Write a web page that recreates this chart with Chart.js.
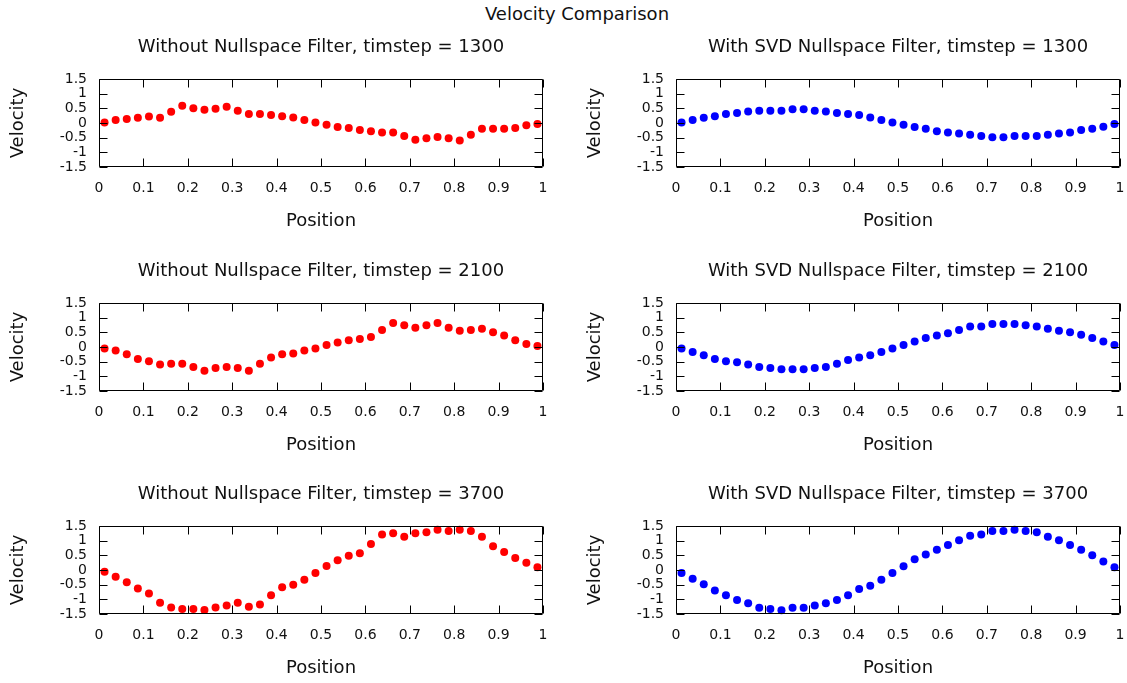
<!DOCTYPE html>
<html>
<head>
<meta charset="utf-8">
<script src="https://cdn.jsdelivr.net/npm/chart.js@4/dist/chart.umd.min.js"></script>
<style>
html,body{margin:0;padding:0;background:#fff;overflow:hidden;width:1127px;height:683px;}
#main{position:absolute;left:0;top:4px;width:1154px;text-align:center;font-family:"DejaVu Sans";font-size:18px;line-height:20px;color:#111;}
canvas{position:absolute;}
</style>
</head>
<body>
<div id="main">Velocity Comparison</div>
<canvas id="c1" width="560" height="210" style="left:0px;top:27px"></canvas>
<canvas id="c2" width="550" height="210" style="left:577px;top:27px"></canvas>
<canvas id="c3" width="560" height="210" style="left:0px;top:251px"></canvas>
<canvas id="c4" width="550" height="210" style="left:577px;top:251px"></canvas>
<canvas id="c5" width="560" height="210" style="left:0px;top:474px"></canvas>
<canvas id="c6" width="550" height="210" style="left:577px;top:474px"></canvas>
<script>
// ---- data ----
const positions = [0.0125, 0.0375, 0.0625, 0.0875, 0.1125, 0.1375, 0.1625, 0.1875, 0.2125, 0.2375,
                   0.2625, 0.2875, 0.3125, 0.3375, 0.3625, 0.3875, 0.4125, 0.4375, 0.4625, 0.4875,
                   0.5125, 0.5375, 0.5625, 0.5875, 0.6125, 0.6375, 0.6625, 0.6875, 0.7125, 0.7375,
                   0.7625, 0.7875, 0.8125, 0.8375, 0.8625, 0.8875, 0.9125, 0.9375, 0.9625, 0.9875];

const timesteps = [1300, 2100, 3700];

const noFilter1300 = [0.02, 0.10, 0.14, 0.18, 0.22, 0.18, 0.38, 0.59, 0.50, 0.45,
                      0.49, 0.55, 0.42, 0.31, 0.31, 0.27, 0.23, 0.19, 0.10, 0.02,
                      -0.06, -0.14, -0.17, -0.24, -0.28, -0.32, -0.32, -0.44, -0.57, -0.52,
                      -0.48, -0.52, -0.60, -0.40, -0.20, -0.20, -0.20, -0.17, -0.08, -0.03];
const svdFilter1300 = [0.02, 0.10, 0.18, 0.23, 0.31, 0.34, 0.39, 0.42, 0.42, 0.42,
                       0.47, 0.47, 0.42, 0.39, 0.34, 0.31, 0.27, 0.19, 0.10, 0.02,
                       -0.06, -0.14, -0.20, -0.28, -0.32, -0.36, -0.40, -0.44, -0.49, -0.49,
                       -0.44, -0.44, -0.44, -0.40, -0.36, -0.32, -0.24, -0.20, -0.13, -0.03];
const noFilter2100 = [-0.05, -0.12, -0.25, -0.41, -0.49, -0.60, -0.57, -0.57, -0.68, -0.81,
                      -0.72, -0.68, -0.72, -0.81, -0.57, -0.36, -0.25, -0.22, -0.12, -0.05,
                      0.07, 0.15, 0.23, 0.27, 0.34, 0.58, 0.82, 0.74, 0.66, 0.74,
                      0.82, 0.66, 0.55, 0.58, 0.62, 0.50, 0.39, 0.23, 0.10, 0.03];
const svdFilter2100 = [-0.05, -0.17, -0.28, -0.41, -0.49, -0.52, -0.60, -0.68, -0.72, -0.76,
                       -0.76, -0.76, -0.72, -0.68, -0.57, -0.44, -0.36, -0.28, -0.17, -0.05,
                       0.07, 0.19, 0.31, 0.39, 0.47, 0.58, 0.70, 0.70, 0.78, 0.78,
                       0.78, 0.74, 0.70, 0.62, 0.55, 0.50, 0.42, 0.31, 0.19, 0.07];
const noFilter3700 = [-0.06, -0.23, -0.42, -0.63, -0.80, -1.12, -1.28, -1.33, -1.33, -1.36,
                      -1.28, -1.21, -1.12, -1.25, -1.18, -0.86, -0.59, -0.50, -0.33, -0.10,
                      0.14, 0.33, 0.49, 0.57, 0.89, 1.21, 1.25, 1.13, 1.25, 1.29,
                      1.37, 1.33, 1.37, 1.33, 1.13, 0.81, 0.61, 0.41, 0.25, 0.09];
const svdFilter3700 = [-0.10, -0.30, -0.49, -0.70, -0.86, -1.02, -1.13, -1.29, -1.33, -1.37,
                       -1.29, -1.29, -1.21, -1.13, -1.02, -0.86, -0.65, -0.54, -0.33, -0.10,
                       0.13, 0.37, 0.53, 0.69, 0.85, 1.01, 1.17, 1.21, 1.33, 1.33,
                       1.37, 1.33, 1.29, 1.13, 1.01, 0.85, 0.69, 0.50, 0.29, 0.09];

const xTickValues = [0, 0.1, 0.2, 0.3, 0.4, 0.5, 0.6, 0.7, 0.8, 0.9, 1];
const xTickLabels = ['0', '0.1', '0.2', '0.3', '0.4', '0.5', '0.6', '0.7', '0.8', '0.9', '1'];
const yTickValues = [-1.5, -1, -0.5, 0, 0.5, 1, 1.5];
const yTickLabels = ['-1.5', '-1', '-0.5', '0', '0.5', '1', '1.5'];

// ---- drawing ----
const FONT = 'DejaVu Sans';
const TEXT = '#111';
const TICK = 8;

const gnuplotFrame = {
  id: 'gnuplotFrame',
  afterDatasetsDraw(chart) {
    const {ctx, chartArea: a, scales: {x, y}} = chart;
    const L = Math.round(a.left) + 0.5, R = Math.round(a.right) - 0.5;
    const T = Math.round(a.top) + 0.5, B = Math.round(a.bottom) - 0.5;
    ctx.save();
    ctx.strokeStyle = '#000';
    ctx.lineWidth = 1;
    ctx.beginPath();
    x.ticks.forEach(t => {
      const px = Math.round(x.getPixelForValue(t.value)) + 0.5;
      ctx.moveTo(px, B); ctx.lineTo(px, B - TICK);
      ctx.moveTo(px, T); ctx.lineTo(px, T + TICK);
    });
    y.ticks.forEach(t => {
      const py = Math.round(y.getPixelForValue(t.value)) + 0.5;
      ctx.moveTo(L, py); ctx.lineTo(L + TICK, py);
      ctx.moveTo(R, py); ctx.lineTo(R - TICK, py);
    });
    ctx.rect(L, T, R - L, B - T);
    ctx.stroke();
    ctx.restore();
  }
};

function makeChart(id, title, values, color, rightPad) {
  new Chart(document.getElementById(id), {
    type: 'scatter',
    data: {
      datasets: [{
        data: positions.map((p, i) => ({x: p, y: values[i]})),
        backgroundColor: color,
        borderColor: color,
        borderWidth: 0,
        pointRadius: 4,
        pointHoverRadius: 4,
        clip: false
      }]
    },
    options: {
      responsive: false,
      animation: false,
      devicePixelRatio: 1,
      events: [],
      layout: {padding: {left: 0, top: 0, right: rightPad, bottom: 0}, autoPadding: false},
      plugins: {
        legend: {display: false},
        tooltip: {enabled: false},
        title: {
          display: true,
          text: title,
          fullSize: false,
          color: TEXT,
          font: {family: FONT, size: 18, weight: 'normal', lineHeight: 1.2},
          padding: {top: 9.5, bottom: 20.9}
        }
      },
      scales: {
        x: {
          type: 'linear',
          min: 0, max: 1,
          afterFit(s) { s.height = 70; s.paddingLeft = 0; s.paddingRight = 0; },
          afterBuildTicks(s) { s.ticks = xTickValues.map(v => ({value: v})); },
          ticks: {
            callback: (v, i) => xTickLabels[i],
            color: TEXT, font: {family: FONT, size: 14, lineHeight: 1.2},
            padding: 12.5, maxRotation: 0, autoSkip: false
          },
          grid: {display: false, drawTicks: false},
          border: {display: false},
          title: {
            display: true, text: 'Position', color: TEXT,
            font: {family: FONT, size: 18, lineHeight: 1.2},
            padding: {top: 0, bottom: 4.5}
          }
        },
        y: {
          type: 'linear',
          min: -1.5, max: 1.5,
          afterFit(s) { s.width = 99; },
          afterBuildTicks(s) { s.ticks = yTickValues.map(v => ({value: v})); },
          ticks: {
            callback: (v, i) => yTickLabels[i],
            color: TEXT, font: {family: FONT, size: 14, lineHeight: 1.2},
            padding: 12, autoSkip: false
          },
          grid: {display: false, drawTicks: false},
          border: {display: false},
          title: {
            display: true, text: 'Velocity', color: TEXT,
            font: {family: FONT, size: 18, lineHeight: 1.2},
            padding: {top: 8, bottom: 0}
          }
        }
      }
    },
    plugins: [gnuplotFrame]
  });
}

const RED = '#ff0000', BLUE = '#0000ff';
makeChart('c1', 'Without Nullspace Filter, timstep = ' + timesteps[0], noFilter1300, RED, 17);
makeChart('c2', 'With SVD Nullspace Filter, timstep = ' + timesteps[0], svdFilter1300, BLUE, 7);
makeChart('c3', 'Without Nullspace Filter, timstep = ' + timesteps[1], noFilter2100, RED, 17);
makeChart('c4', 'With SVD Nullspace Filter, timstep = ' + timesteps[1], svdFilter2100, BLUE, 7);
makeChart('c5', 'Without Nullspace Filter, timstep = ' + timesteps[2], noFilter3700, RED, 17);
makeChart('c6', 'With SVD Nullspace Filter, timstep = ' + timesteps[2], svdFilter3700, BLUE, 7);
</script>
</body>
</html>
